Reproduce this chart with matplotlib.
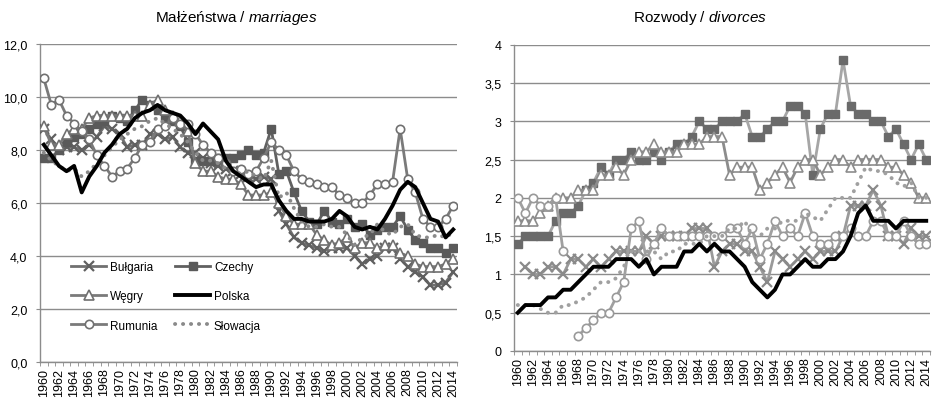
import numpy as np
import matplotlib
matplotlib.use("Agg")
import matplotlib.pyplot as plt
from matplotlib.ticker import FuncFormatter, FixedLocator

plt.rcParams['font.family'] = ['Liberation Sans', 'DejaVu Sans']
plt.rcParams['mathtext.fontset'] = 'custom'
plt.rcParams['mathtext.it'] = 'Liberation Sans:italic'
plt.rcParams['mathtext.rm'] = 'Liberation Sans'

nan = np.nan
years = list(range(1960, 2015))

# Marriages per 1000
bg_m = [8.8, 8.4, 8.0, 8.1, 8.1, 8.0, 8.2, 8.5, 8.9, 8.8, 8.6, 8.1, 8.2, 8.2, 8.6, 8.6, 8.4, 8.5, 8.1, 7.9,
        7.9, 7.7, 7.5, 7.4, 7.3, 7.2, 7.1, 7.0, 6.9, 7.0, 6.9, 5.7, 5.2, 4.7, 4.5, 4.4, 4.3, 4.2, 4.3, 4.3,
        4.3, 4.0, 3.7, 3.9, 4.0, 4.3, 4.3, 3.9, 3.6, 3.4, 3.2, 2.9, 2.9, 3.0, 3.4]
cz_m = [7.7, 7.7, 8.0, 8.3, 8.5, 8.6, 8.8, 9.0, 9.1, 9.3, 9.2, 9.1, 9.5, 9.9, 9.7, 9.5, 9.2, 9.1, 8.9, 8.3,
        7.6, 7.6, 7.6, 7.7, 7.7, 7.7, 7.8, 8.0, 7.8, 7.9, 8.8, 7.1, 7.2, 6.4, 5.7, 5.3, 5.2, 5.7, 5.3, 5.2,
        5.4, 5.1, 5.2, 4.8, 5.0, 5.1, 5.1, 5.5, 5.0, 4.6, 4.5, 4.3, 4.3, 4.1, 4.3]
hu_m = [8.9, 8.2, 8.2, 8.6, 8.8, 8.8, 9.2, 9.3, 9.3, 9.3, 9.3, 9.3, 9.3, 9.3, 9.7, 9.9, 9.5, 9.3, 9.1, 8.7,
        7.5, 7.2, 7.2, 7.0, 6.9, 6.9, 6.7, 6.3, 6.3, 6.3, 6.4, 6.0, 5.5, 5.2, 5.2, 5.2, 4.8, 4.6, 4.4, 4.5,
        4.7, 4.3, 4.5, 4.5, 4.3, 4.4, 4.4, 4.1, 4.0, 3.7, 3.6, 3.6, 3.6, 3.7, 3.9]
pl_m = [8.2, 7.8, 7.4, 7.2, 7.4, 6.4, 7.0, 7.4, 7.9, 8.2, 8.6, 8.8, 9.2, 9.4, 9.5, 9.7, 9.5, 9.4, 9.3, 9.0,
        8.6, 9.0, 8.7, 8.4, 7.6, 7.2, 7.0, 6.8, 6.6, 6.7, 6.7, 6.1, 5.7, 5.4, 5.4, 5.3, 5.3, 5.3, 5.4, 5.7,
        5.5, 5.1, 5.0, 5.1, 5.0, 5.4, 5.9, 6.5, 6.8, 6.6, 6.0, 5.4, 5.3, 4.7, 5.0]
ro_m = [10.7, 9.7, 9.9, 9.3, 9.0, 8.7, 8.4, 7.8, 7.4, 7.0, 7.2, 7.3, 7.7, 8.2, 8.3, 8.8, 8.9, 9.2, 9.0, 9.0,
        8.6, 8.2, 7.9, 7.7, 7.5, 7.2, 7.3, 7.1, 7.2, 7.7, 8.3, 8.0, 7.8, 7.2, 6.9, 6.8, 6.7, 6.6, 6.6, 6.3,
        6.2, 6.0, 6.0, 6.3, 6.7, 6.7, 6.8, 8.8, 6.9, 6.4, 5.4, 5.1, 5.1, 5.4, 5.9]
sk_m = [7.9, 7.6, 7.4, 7.2, 7.3, 7.0, 7.2, 7.5, 7.8, 8.1, 8.4, 8.6, 8.8, 8.9, 9.1, 9.2, 9.0, 8.8, 8.6, 8.3,
        7.9, 7.6, 7.6, 7.5, 7.3, 7.2, 7.1, 7.2, 7.0, 6.9, 7.6, 6.2, 6.4, 5.8, 5.3, 5.1, 5.1, 5.2, 5.1, 5.1,
        4.8, 4.4, 4.7, 4.8, 5.2, 4.9, 4.8, 5.1, 5.2, 4.8, 4.7, 4.7, 4.8, 4.7, 4.9]

# Divorces per 1000
bg_d = [nan, 1.1, 1.0, 1.0, 1.1, 1.1, 1.0, 1.2, 1.2, 1.1, 1.2, 1.1, 1.2, 1.3, 1.3, 1.3, 1.3, 1.5, 1.4, 1.5,
        1.5, 1.5, 1.5, 1.6, 1.6, 1.6, 1.1, 1.3, 1.4, 1.4, 1.3, 1.3, 1.1, 0.9, 1.3, 1.2, 1.1, 1.2, 1.3, 1.2,
        1.3, 1.3, 1.3, 1.5, 1.9, 1.9, 1.9, 2.1, 1.9, 1.5, 1.5, 1.4, 1.6, 1.5, 1.5]
cz_d = [1.4, 1.5, 1.5, 1.5, 1.5, 1.7, 1.8, 1.8, 1.9, 2.1, 2.2, 2.4, 2.3, 2.5, 2.5, 2.6, 2.5, 2.5, 2.6, 2.5,
        2.6, 2.7, 2.7, 2.8, 3.0, 2.9, 2.9, 3.0, 3.0, 3.0, 3.1, 2.8, 2.8, 2.9, 3.0, 3.0, 3.2, 3.2, 3.1, 2.3,
        2.9, 3.1, 3.1, 3.8, 3.2, 3.1, 3.1, 3.0, 3.0, 2.8, 2.9, 2.7, 2.5, 2.7, 2.5]
hu_d = [1.7, 1.7, 1.7, 1.8, 1.9, 2.0, 2.0, 2.0, 2.1, 2.1, 2.1, 2.3, 2.3, 2.4, 2.3, 2.5, 2.6, 2.6, 2.7, 2.6,
        2.6, 2.6, 2.7, 2.7, 2.7, 2.8, 2.8, 2.8, 2.3, 2.4, 2.4, 2.4, 2.1, 2.2, 2.3, 2.4, 2.2, 2.4, 2.5, 2.5,
        2.3, 2.4, 2.5, 2.5, 2.4, 2.5, 2.5, 2.5, 2.5, 2.4, 2.4, 2.3, 2.2, 2.0, 2.0]
pl_d = [0.5, 0.6, 0.6, 0.6, 0.7, 0.7, 0.8, 0.8, 0.9, 1.0, 1.1, 1.1, 1.1, 1.2, 1.2, 1.2, 1.1, 1.2, 1.0, 1.1,
        1.1, 1.1, 1.3, 1.3, 1.4, 1.3, 1.4, 1.3, 1.3, 1.2, 1.1, 0.9, 0.8, 0.7, 0.8, 1.0, 1.0, 1.1, 1.2, 1.1,
        1.1, 1.2, 1.2, 1.3, 1.5, 1.8, 1.9, 1.7, 1.7, 1.7, 1.6, 1.7, 1.7, 1.7, 1.7]
ro_d = [2.0, 1.8, 2.0, 1.9, 1.9, 2.0, 1.3, nan, 0.2, 0.3, 0.4, 0.5, 0.5, 0.7, 0.9, 1.6, 1.7, 1.2, 1.4, 1.6,
        1.5, 1.5, 1.5, 1.5, 1.5, 1.5, 1.5, 1.5, 1.6, 1.6, 1.4, 1.6, 1.2, 1.4, 1.7, 1.5, 1.6, 1.5, 1.8, 1.5,
        1.4, 1.4, 1.5, 1.5, 1.6, 1.5, 1.5, 1.7, 1.7, 1.5, 1.5, 1.7, 1.5, 1.4, 1.4]
sk_d = [0.6, 0.6, 0.6, 0.55, 0.5, 0.5, 0.6, 0.6, 0.65, 0.7, 0.8, 0.9, 0.9, 0.95, 1.1, 1.3, 1.3, 1.3, 1.3, 1.2,
        1.3, 1.3, 1.4, 1.4, 1.4, 1.5, 1.5, 1.5, 1.6, 1.6, 1.7, 1.5, 1.5, 1.6, 1.6, 1.7, 1.7, 1.7, 1.8, 1.75,
        1.7, 1.85, 2.0, 2.0, 2.0, 2.2, 2.4, 2.35, 2.35, 2.3, 2.2, 2.15, 2.2, 2.0, 2.0]

labels = ['Bułgaria', 'Czechy', 'Węgry', 'Polska', 'Rumunia', 'Słowacja']
title_m = r'Małżeństwa / $\it{marriages}$'
title_d = r'Rozwody / $\it{divorces}$'

x = np.arange(len(years))
DOT = (0, (0.05, 2.0))

fig = plt.figure(figsize=(9.32, 4.02), dpi=100)
axL = fig.add_axes([40/932, 1-363/402, (457-40)/932, (363-45)/402])
axR = fig.add_axes([514/932, 1-352/402, (930-514)/932, (352-45.7)/402])


def style_axis(ax, ymax, ystep, fmt):
    ax.set_xlim(-0.5, len(years)-0.5)
    ax.set_ylim(0, ymax)
    ax.set_yticks(np.arange(0, ymax+1e-9, ystep))
    ax.yaxis.set_major_formatter(FuncFormatter(fmt))
    ax.grid(axis='y', color='#8c8c8c', linewidth=1.0)
    ax.set_axisbelow(True)
    for s in ['top', 'right']:
        ax.spines[s].set_visible(False)
    for s in ['left', 'bottom']:
        ax.spines[s].set_color('#8c8c8c')
        ax.spines[s].set_linewidth(1.0)
    ax.set_xticks(x[::2])
    ax.set_xticklabels([str(y) for y in years[::2]], rotation=90, fontsize=9)
    ax.xaxis.set_minor_locator(FixedLocator(np.arange(-0.5, len(years), 1)))
    ax.tick_params(axis='x', which='major', length=0, pad=4)
    ax.tick_params(axis='x', which='minor', length=3, color='#8c8c8c')
    ax.tick_params(axis='y', length=3, color='#8c8c8c', labelsize=9, pad=6)


def fmt_m(v, pos):
    return ('%.1f' % v).replace('.', ',')


def fmt_d(v, pos):
    return ('%g' % v).replace('.', ',')


style_axis(axL, 12, 2, fmt_m)
style_axis(axR, 4, 0.5, fmt_d)

# Left chart
h_bg, = axL.plot(x, bg_m, color='#707070', lw=2.0, marker='x', ms=6.5, mew=1.6, mec='#606060', label=labels[0], zorder=3)
h_cz, = axL.plot(x, cz_m, color='#606060', lw=2.0, marker='s', ms=5.5, mfc='#5a5a5a', mec='#5a5a5a', label=labels[1], zorder=3)
h_hu, = axL.plot(x, hu_m, color='#7a7a7a', lw=2.0, marker='^', ms=7, mfc='white', mec='#707070', mew=1.2, label=labels[2], zorder=3)
h_pl, = axL.plot(x, pl_m, color='black', lw=2.8, label=labels[3], zorder=5)
h_ro, = axL.plot(x, ro_m, color='#7a7a7a', lw=2.0, marker='o', ms=6, mfc='white', mec='#707070', mew=1.2, label=labels[4], zorder=4)
h_sk, = axL.plot(x, sk_m, color='#8a8a8a', lw=2.8, ls=DOT, dash_capstyle='round', label=labels[5], zorder=4)

leg = axL.legend([h_bg, h_hu, h_ro, h_cz, h_pl, h_sk],
                 [labels[0], labels[2], labels[4], labels[1], labels[3], labels[5]],
                 ncol=2, loc='upper left', bbox_to_anchor=(0.06, 0.335), frameon=False,
                 fontsize=8.5, handlelength=3.0, handletextpad=0.3, columnspacing=1.5,
                 labelspacing=1.45, borderpad=0)

# Right chart
axR.plot(x, cz_d, color='#a6a6a6', lw=2.0, marker='s', ms=6, mfc='#6a6a6a', mec='#6a6a6a', zorder=3)
axR.plot(x, hu_d, color='#8c8c8c', lw=2.0, marker='^', ms=7, mfc='white', mec='#8c8c8c', mew=1.2, zorder=3)
axR.plot(x, bg_d, color='#9a9a9a', lw=2.0, marker='x', ms=6.5, mew=1.6, mec='#8a8a8a', zorder=3)
axR.plot(x, ro_d, color='#a0a0a0', lw=2.0, marker='o', ms=6, mfc='white', mec='#999999', mew=1.2, zorder=3)
axR.plot(x, sk_d, color='#a0a0a0', lw=2.8, ls=DOT, dash_capstyle='round', zorder=3)
axR.plot(x, pl_d, color='black', lw=2.8, zorder=5)

fig.text(236/932, 1-18/402, title_m, ha='center', va='center', fontsize=11)
fig.text(700/932, 1-18/402, title_d, ha='center', va='center', fontsize=11)

fig.savefig('out.png', dpi=100)
